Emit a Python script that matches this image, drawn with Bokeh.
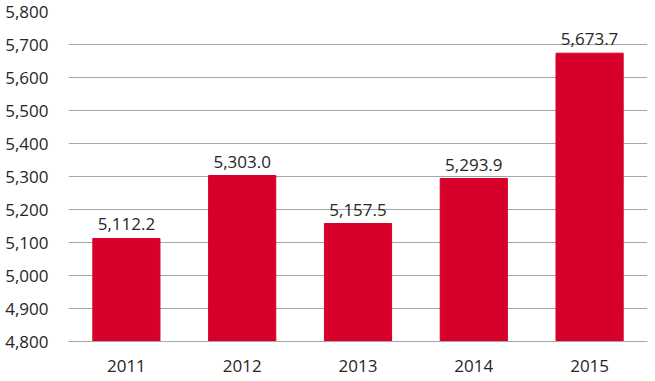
from bokeh.plotting import figure
from bokeh.models import ColumnDataSource, NumeralTickFormatter, FixedTicker, Range1d
from bokeh.core.properties import value
from bokeh.embed import file_html
from bokeh.resources import INLINE

years = ["2011", "2012", "2013", "2014", "2015"]
values = [5112.2, 5303.0, 5157.5, 5293.9, 5673.7]
labels = ["5,112.2", "5,303.0", "5,157.5", "5,293.9", "5,673.7"]
y_ticks = [4800, 4900, 5000, 5100, 5200, 5300, 5400, 5500, 5600, 5700, 5800]

FONT = "Open Sans"
RED = "#D6002A"

src = ColumnDataSource(dict(x=years, top=values, label=labels))

p = figure(x_range=years, y_range=Range1d(4800, 5800), width=650, height=375,
           output_backend="svg", toolbar_location=None,
           min_border_left=68, min_border_right=3, min_border_top=11, min_border_bottom=34)
p.outline_line_color = None
p.background_fill_color = "white"

p.vbar(x="x", top="top", bottom=4800, width=0.58, color=RED, source=src)
p.text(x="x", y="top", text="label", source=src, text_align="center", text_baseline="bottom",
       y_offset=-8, text_font=value(FONT), text_font_size="17px", text_color="#262626")

p.xgrid.grid_line_color = None
p.ygrid.grid_line_color = "#A6A6A6"
p.ygrid.grid_line_width = 1
p.yaxis.ticker = FixedTicker(ticks=y_ticks)
p.yaxis.formatter = NumeralTickFormatter(format="0,0")
p.yaxis.axis_line_color = None
p.yaxis.major_tick_line_color = None
p.yaxis.minor_tick_line_color = None
p.yaxis.major_label_standoff = 14
p.xaxis.axis_line_color = "#A6A6A6"
p.xaxis.major_tick_line_color = None
p.xaxis.minor_tick_line_color = None
p.xaxis.major_label_standoff = 12
for ax in (p.xaxis[0], p.yaxis[0]):
    ax.major_label_text_font = FONT
    ax.major_label_text_font_size = "17px"
    ax.major_label_text_color = "#262626"

open("out.html", "w").write(file_html(p, INLINE))
